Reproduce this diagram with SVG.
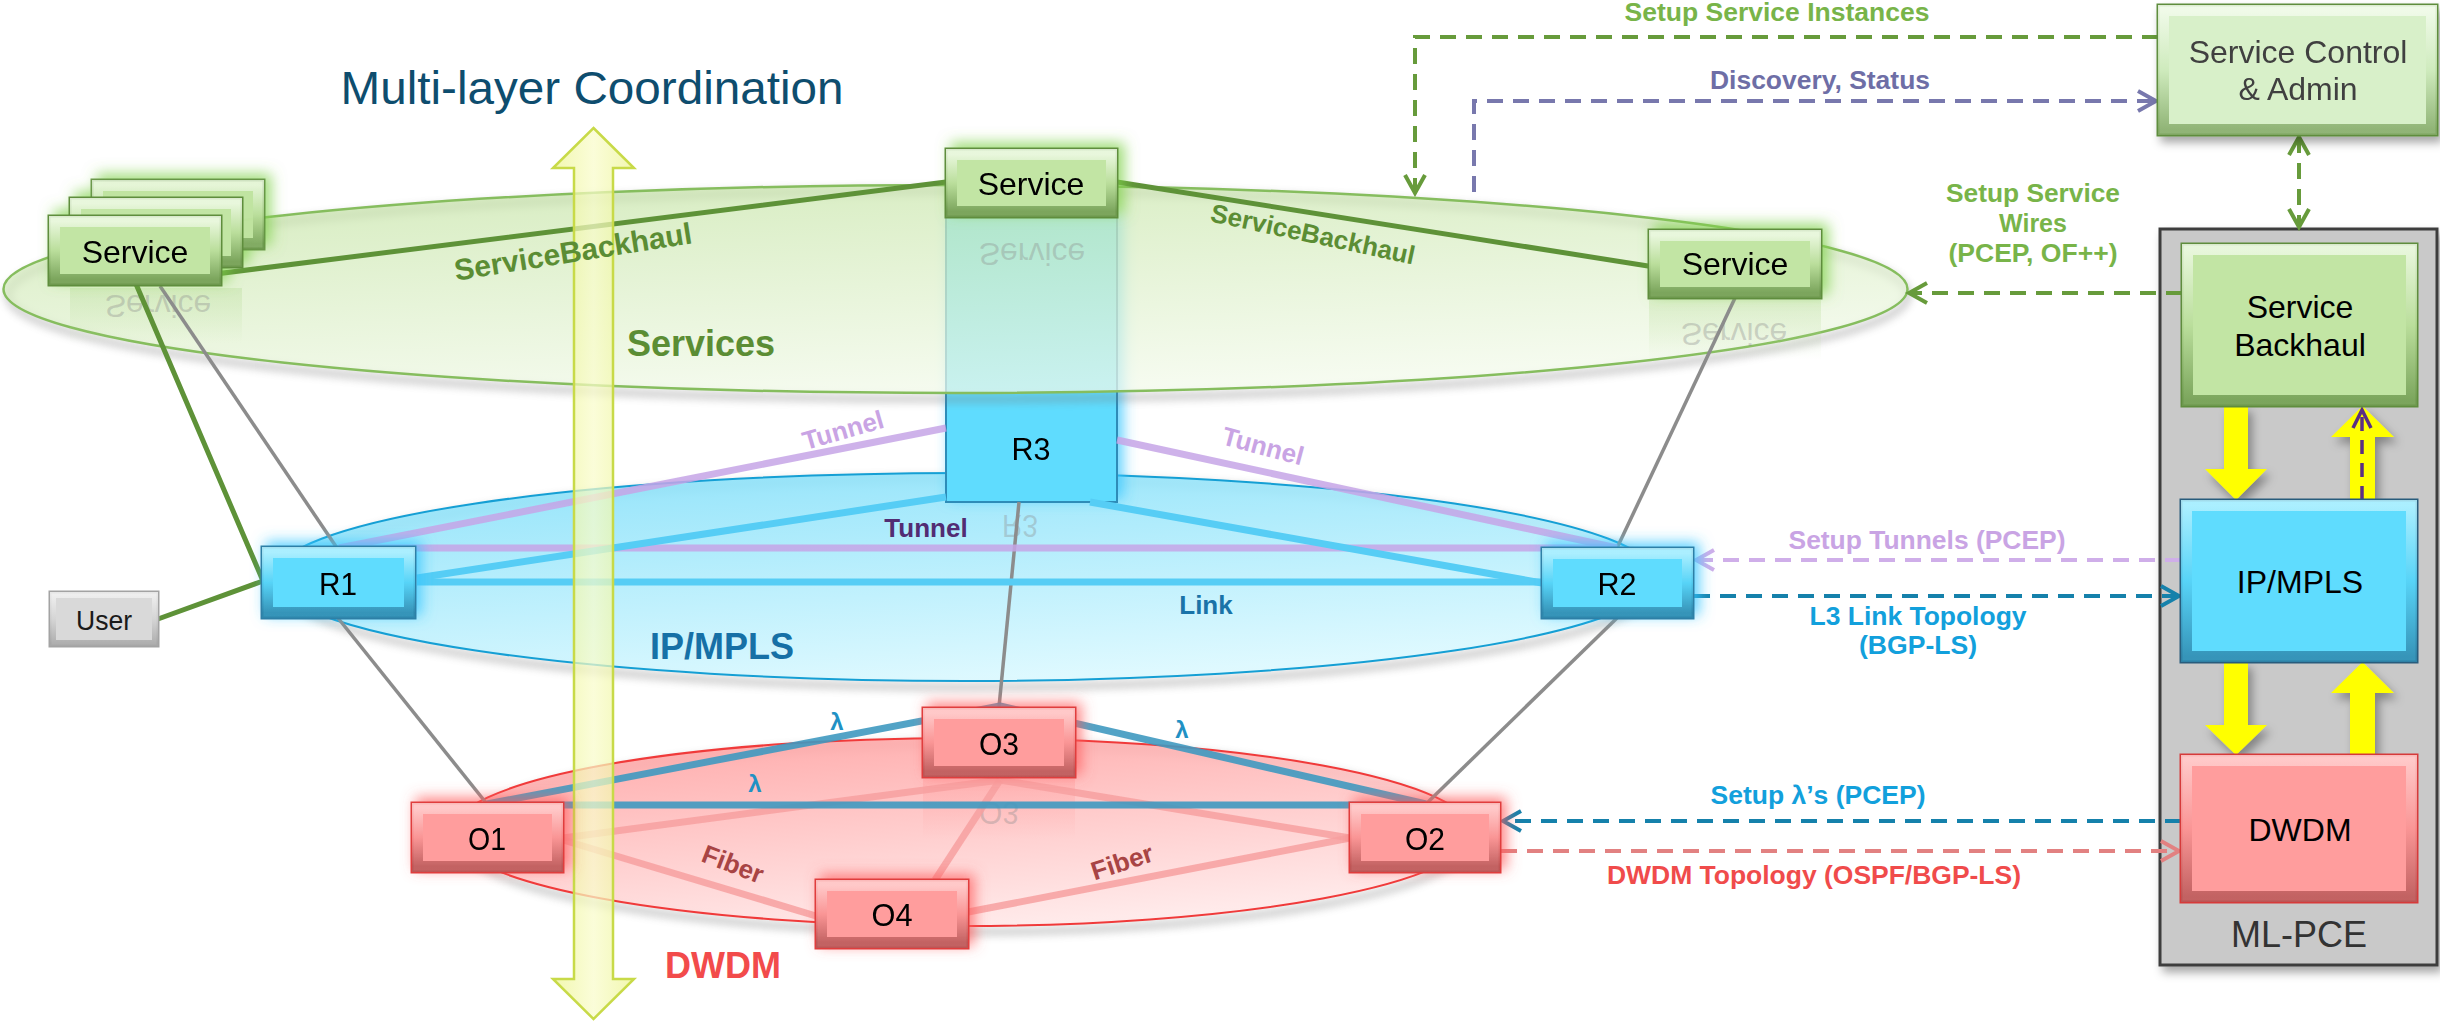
<svg xmlns="http://www.w3.org/2000/svg" width="2440" height="1023" viewBox="0 0 2440 1023">
<defs>
<linearGradient id="gSvc" x1="0.3" y1="0" x2="0.7" y2="1"><stop offset="0" stop-color="#c9e6ab"/><stop offset="1" stop-color="#f5fbee"/></linearGradient>
<linearGradient id="gIp" x1="0.3" y1="0" x2="0.7" y2="1"><stop offset="0" stop-color="#8ce2fa"/><stop offset="1" stop-color="#e0faff"/></linearGradient>
<linearGradient id="gDw" x1="0.3" y1="0" x2="0.7" y2="1"><stop offset="0" stop-color="#ffa6a6"/><stop offset="1" stop-color="#ffecec"/></linearGradient>
<linearGradient id="gArr" x1="0" y1="0" x2="1" y2="0"><stop offset="0" stop-color="#ecf491"/><stop offset="0.5" stop-color="#f9fcca"/><stop offset="1" stop-color="#ecf491"/></linearGradient>
<linearGradient id="bevG" x1="0" y1="0" x2="0" y2="1"><stop offset="0" stop-color="#effae6"/><stop offset="0.5" stop-color="#b9dd9a"/><stop offset="1" stop-color="#6f9a50"/></linearGradient>
<linearGradient id="bevL" x1="0" y1="0" x2="0" y2="1"><stop offset="0" stop-color="#f4fcee"/><stop offset="0.5" stop-color="#cdeabb"/><stop offset="1" stop-color="#84aa68"/></linearGradient>
<linearGradient id="bevB" x1="0" y1="0" x2="0" y2="1"><stop offset="0" stop-color="#b8f2ff"/><stop offset="0.5" stop-color="#56d2f6"/><stop offset="1" stop-color="#2f88ad"/></linearGradient>
<linearGradient id="bevR" x1="0" y1="0" x2="0" y2="1"><stop offset="0" stop-color="#ffd0d0"/><stop offset="0.5" stop-color="#f99494"/><stop offset="1" stop-color="#b85858"/></linearGradient>
<linearGradient id="bevU" x1="0" y1="0" x2="0" y2="1"><stop offset="0" stop-color="#f2f2f2"/><stop offset="0.5" stop-color="#d4d4d4"/><stop offset="1" stop-color="#a8a8a8"/></linearGradient>
<linearGradient id="reflG" x1="0" y1="0" x2="0" y2="1"><stop offset="0" stop-color="#b5db96" stop-opacity="0.35"/><stop offset="1" stop-color="#b5db96" stop-opacity="0"/></linearGradient>
<linearGradient id="reflR" x1="0" y1="0" x2="0" y2="1"><stop offset="0" stop-color="#ff8f8f" stop-opacity="0.3"/><stop offset="1" stop-color="#ff8f8f" stop-opacity="0"/></linearGradient>
<filter id="glowG" x="-30%" y="-50%" width="160%" height="200%"><feGaussianBlur in="SourceAlpha" stdDeviation="7" result="b"/><feOffset in="b" dx="6" dy="-5" result="o"/><feFlood flood-color="#7fd14a" flood-opacity="0.75"/><feComposite in2="o" operator="in" result="g"/><feMerge><feMergeNode in="g"/><feMergeNode in="SourceGraphic"/></feMerge></filter>
<filter id="glowB" x="-30%" y="-50%" width="160%" height="200%"><feGaussianBlur in="SourceAlpha" stdDeviation="7" result="b"/><feOffset in="b" dx="5" dy="-4" result="o"/><feFlood flood-color="#35c6ff" flood-opacity="0.8"/><feComposite in2="o" operator="in" result="g"/><feMerge><feMergeNode in="g"/><feMergeNode in="SourceGraphic"/></feMerge></filter>
<filter id="glowR" x="-30%" y="-50%" width="160%" height="200%"><feGaussianBlur in="SourceAlpha" stdDeviation="7" result="b"/><feOffset in="b" dx="5" dy="-4" result="o"/><feFlood flood-color="#ff5c5c" flood-opacity="0.75"/><feComposite in2="o" operator="in" result="g"/><feMerge><feMergeNode in="g"/><feMergeNode in="SourceGraphic"/></feMerge></filter>
<filter id="shadow" x="-10%" y="-10%" width="130%" height="130%"><feDropShadow dx="4" dy="6" stdDeviation="5" flood-color="#000" flood-opacity="0.35"/></filter>
<filter id="blur4" x="-5%" y="-20%" width="110%" height="140%"><feGaussianBlur stdDeviation="4"/></filter>
<marker id="mG" markerUnits="userSpaceOnUse" markerWidth="26" markerHeight="26" refX="22" refY="13" orient="auto-start-reverse" viewBox="0 0 26 26"><path d="M4,3 L22,13 L4,23" fill="none" stroke="#679b3b" stroke-width="4"/></marker>
<marker id="mP" markerUnits="userSpaceOnUse" markerWidth="26" markerHeight="26" refX="22" refY="13" orient="auto" viewBox="0 0 26 26"><path d="M4,3 L22,13 L4,23" fill="none" stroke="#7878ad" stroke-width="4"/></marker>
<marker id="mL" markerUnits="userSpaceOnUse" markerWidth="26" markerHeight="26" refX="22" refY="13" orient="auto" viewBox="0 0 26 26"><path d="M4,3 L22,13 L4,23" fill="none" stroke="#cfaee9" stroke-width="4"/></marker>
<marker id="mB" markerUnits="userSpaceOnUse" markerWidth="26" markerHeight="26" refX="22" refY="13" orient="auto" viewBox="0 0 26 26"><path d="M4,3 L22,13 L4,23" fill="none" stroke="#1581ab" stroke-width="4"/></marker>
<marker id="mR" markerUnits="userSpaceOnUse" markerWidth="26" markerHeight="26" refX="22" refY="13" orient="auto" viewBox="0 0 26 26"><path d="M4,3 L22,13 L4,23" fill="none" stroke="#e28181" stroke-width="4"/></marker>
<marker id="mV" markerUnits="userSpaceOnUse" markerWidth="26" markerHeight="26" refX="22" refY="13" orient="auto" viewBox="0 0 26 26"><path d="M4,4 L22,13 L4,22" fill="none" stroke="#5b2e84" stroke-width="3.5"/></marker>
<style>
text{font-family:"Liberation Sans",Arial,sans-serif}
.nt{font-size:32px;text-anchor:middle;fill:#000}
.no{font-size:32px;text-anchor:middle;fill:#000}
.lb{font-weight:bold;text-anchor:middle}
.bx{stroke-width:3}
.green{fill:#c2e5a4;stroke:#5f8d3d}
.lgreen{fill:#d8f0c9;stroke:#5f8d3d}
.blue{fill:#5fdcfe;stroke:#2d7fa6}
.red{fill:#ff9d9d;stroke:#e03c3c}
.gray{fill:#d9d9d9;stroke:#a3a3a3}
.bev{fill:none;stroke-width:11;stroke-opacity:0.85}
.bevG{stroke:url(#bevG)}
.bevL{stroke:url(#bevL)}
.bevB{stroke:url(#bevB)}
.bevR{stroke:url(#bevR)}
.bevU{stroke:url(#bevU)}
.svc{fill:none;stroke:#5e9238;stroke-width:5;stroke-linecap:round}
.gl{fill:none;stroke:#8c8c8c;stroke-width:3.5}
.tun{fill:none;stroke:#c6a5e6;stroke-width:7;stroke-opacity:0.85}
.lnk{fill:none;stroke:#56cdf5;stroke-width:7}
.lam{fill:none;stroke:#3f99c0;stroke-width:7;stroke-opacity:0.9;stroke-linejoin:round}
.fib{fill:none;stroke:#f7a0a0;stroke-width:7;stroke-opacity:0.85}
.dash{fill:none;stroke-width:4;stroke-dasharray:16 10}
.dG{stroke:#679b3b}
.dP{stroke:#7878ad}
.dL{stroke:#cfaee9}
.dB{stroke:#1581ab}
.dR{stroke:#e28181}
.dV{stroke:#5b2e84;stroke-width:3.5;stroke-dasharray:14 9}
.yel{fill:#ffff00}
.refl{font-size:32px;text-anchor:middle;fill:#8a8a8a;fill-opacity:0.35}
</style>
</defs>
<rect width="2440" height="1023" fill="#ffffff"/>

<g id="layer-dwdm">
<ellipse cx="965" cy="838" rx="508" ry="94" fill="none" stroke="#777" stroke-width="6" opacity="0.45" filter="url(#blur4)"/>
<ellipse cx="962" cy="832" rx="510" ry="94" fill="url(#gDw)" fill-opacity="0.9" stroke="#f03a3a" stroke-width="2"/>
</g>
<g id="layer-ipmpls">
<ellipse cx="968" cy="583" rx="690" ry="104" fill="none" stroke="#777" stroke-width="6" opacity="0.45" filter="url(#blur4)"/>
<ellipse cx="965" cy="577" rx="692" ry="104" fill="url(#gIp)" fill-opacity="0.9" stroke="#159fd4" stroke-width="2"/>
</g>

<g id="node-r3" filter="url(#glowB)">
<rect x="946" y="217" width="171" height="285" fill="#5fdcfe" stroke="#2d8cb8" stroke-width="2"/>
<text class="no" x="1031" y="460" textLength="39" lengthAdjust="spacingAndGlyphs">R3</text>
</g>

<g id="layer-services">
<ellipse cx="958" cy="295" rx="950" ry="104" fill="none" stroke="#777" stroke-width="6" opacity="0.45" filter="url(#blur4)"/>
<ellipse cx="955.5" cy="289" rx="952" ry="104" fill="url(#gSvc)" fill-opacity="0.72" stroke="#86bd5e" stroke-width="2.5"/>
</g>

<g id="reflections">
<rect x="70" y="288" width="172" height="55" fill="url(#reflG)"/>
<rect x="1649" y="300" width="172" height="60" fill="url(#reflG)"/>
<rect x="923" y="779" width="152" height="60" fill="url(#reflR)"/>
<text class="refl" transform="translate(158,295) scale(1,-1)">Service</text>
<text class="refl" transform="translate(1032,243) scale(1,-1)">Service</text>
<text class="refl" transform="translate(1734,323) scale(1,-1)">Service</text>
<text class="refl" transform="translate(1020,515) scale(1,-1)" textLength="36" lengthAdjust="spacingAndGlyphs">R3</text>
<text class="refl" transform="translate(999,802) scale(1,-1)" textLength="40" lengthAdjust="spacingAndGlyphs">O3</text>
</g>

<g id="node-ml-pce">
<rect x="2160" y="229" width="277" height="736" fill="#c9c9c9" stroke="#3d3d3d" stroke-width="3" filter="url(#shadow)"/>
<text x="2299" y="947" style="font-size:36px;text-anchor:middle;fill:#333">ML-PCE</text>
</g>

<g id="connectors">
<line class="gl" x1="160" y1="286" x2="337" y2="548"/>
<line class="gl" x1="338" y1="618" x2="487" y2="804"/>
<line class="gl" x1="1019" y1="502" x2="999" y2="707"/>
<line class="gl" x1="1735" y1="298" x2="1617" y2="548"/>
<line class="gl" x1="1617" y1="618" x2="1426" y2="804"/>
<line class="svc" x1="136" y1="284" x2="946" y2="182"/>
<line class="svc" x1="1117" y1="182" x2="1648" y2="266"/>
<line class="svc" x1="136" y1="284" x2="263" y2="581"/>
<line class="svc" x1="158" y1="619" x2="263" y2="581"/>
<line class="tun" x1="339" y1="548" x2="946" y2="428"/>
<line class="tun" x1="1117" y1="440" x2="1617" y2="548"/>
<line class="tun" x1="339" y1="548" x2="1617" y2="548"/>
<line class="lnk" x1="417" y1="582" x2="1542" y2="582"/>
<line class="lnk" x1="417" y1="578" x2="946" y2="497"/>
<line class="lnk" x1="1090" y1="502" x2="1542" y2="583"/>
<line class="fib" x1="563" y1="838" x2="1000" y2="780"/>
<line class="fib" x1="1000" y1="780" x2="1350" y2="838"/>
<line class="fib" x1="1000" y1="780" x2="935" y2="880"/>
<line class="fib" x1="563" y1="840" x2="816" y2="916"/>
<line class="fib" x1="968" y1="912" x2="1350" y2="838"/>
<polyline class="lam" points="487,804 1000,706 1426,804"/>
<line class="lam" x1="487" y1="805" x2="1426" y2="805"/>
<path class="dash dG" d="M2158,37 H1415 V193" marker-end="url(#mG)"/>
<path class="dash dP" d="M1474,192 V101 H2156" marker-end="url(#mP)"/>
<path class="dash dG" d="M2299,137 V227" marker-start="url(#mG)" marker-end="url(#mG)"/>
<path class="dash dG" d="M2182,293 H1909" marker-end="url(#mG)"/>
<path class="dash dL" d="M2181,560 H1696" marker-end="url(#mL)"/>
<path class="dash dB" d="M1694,596 H2179" marker-end="url(#mB)"/>
<path class="dash dB" d="M2181,821 H1503" marker-end="url(#mB)"/>
<path class="dash dR" d="M1501,851 H2179" marker-end="url(#mR)"/>
</g>

<g id="coordination-arrow">
<polygon points="593.5,128 634,168 613,168 613,979 634,979 593.5,1019 553,979 574,979 574,168 553,168" fill="url(#gArr)" fill-opacity="0.72" stroke="#c8da48" stroke-width="2.5"/>
</g>

<g id="node-service-left" filter="url(#glowG)">
<rect class="bx green" x="92" y="180" width="172" height="69" opacity="0.9"/>
<rect class="bev bevG" x="97.5" y="185.5" width="161" height="58" opacity="0.9"/>
<rect class="bx green" x="70" y="198" width="172" height="69"/>
<rect class="bev bevG" x="75.5" y="203.5" width="161" height="58"/>
<rect class="bx green" x="49" y="216" width="172" height="69"/>
<rect class="bev bevG" x="54.5" y="221.5" width="161" height="58"/>
<text class="nt" x="135" y="263">Service</text>
</g>
<g id="node-service-top" filter="url(#glowG)">
<rect class="bx green" x="946" y="149" width="171" height="68"/>
<rect class="bev bevG" x="951.5" y="154.5" width="160" height="57"/>
<text class="nt" x="1031" y="195">Service</text>
</g>
<g id="node-service-right" filter="url(#glowG)">
<rect class="bx green" x="1649" y="230" width="172" height="68"/>
<rect class="bev bevG" x="1654.5" y="235.5" width="161" height="57"/>
<text class="nt" x="1735" y="275">Service</text>
</g>
<g id="node-r1" filter="url(#glowB)">
<rect class="bx blue" x="262" y="547" width="153" height="71"/>
<rect class="bev bevB" x="267.5" y="552.5" width="142" height="60"/>
<text class="no" x="338" y="595" textLength="38" lengthAdjust="spacingAndGlyphs">R1</text>
</g>
<g id="node-r2" filter="url(#glowB)">
<rect class="bx blue" x="1542" y="548" width="151" height="70"/>
<rect class="bev bevB" x="1547.5" y="553.5" width="140" height="59"/>
<text class="no" x="1617" y="595" textLength="39" lengthAdjust="spacingAndGlyphs">R2</text>
</g>
<g id="node-o1" filter="url(#glowR)">
<rect class="bx red" x="412" y="803" width="151" height="69"/>
<rect class="bev bevR" x="417.5" y="808.5" width="140" height="58"/>
<text class="no" x="487" y="850" textLength="38" lengthAdjust="spacingAndGlyphs">O1</text>
</g>
<g id="node-o2" filter="url(#glowR)">
<rect class="bx red" x="1350" y="803" width="150" height="69"/>
<rect class="bev bevR" x="1355.5" y="808.5" width="139" height="58"/>
<text class="no" x="1425" y="850" textLength="40" lengthAdjust="spacingAndGlyphs">O2</text>
</g>
<g id="node-o3" filter="url(#glowR)">
<rect class="bx red" x="923" y="708" width="152" height="69"/>
<rect class="bev bevR" x="928.5" y="713.5" width="141" height="58"/>
<text class="no" x="999" y="755" textLength="40" lengthAdjust="spacingAndGlyphs">O3</text>
</g>
<g id="node-o4" filter="url(#glowR)">
<rect class="bx red" x="816" y="880" width="152" height="68"/>
<rect class="bev bevR" x="821.5" y="885.5" width="141" height="57"/>
<text class="no" x="892" y="926" textLength="41" lengthAdjust="spacingAndGlyphs">O4</text>
</g>
<g id="node-user">
<rect class="bx gray" x="50" y="592" width="108" height="54"/>
<rect class="bev bevU" x="53" y="595" width="102" height="48" style="stroke-width:6"/>
<text x="104" y="630" style="font-size:28px;text-anchor:middle;fill:#1a1a1a" textLength="56" lengthAdjust="spacingAndGlyphs">User</text>
</g>

<g id="node-service-control" filter="url(#shadow)">
<rect class="bx lgreen" x="2158" y="5" width="279" height="130"/>
<rect class="bev bevL" x="2163.5" y="10.5" width="268" height="119"/>
<text class="nt" x="2298" y="63" style="fill:#3f3f3f">Service Control</text>
<text class="nt" x="2298" y="100" style="fill:#3f3f3f">&amp; Admin</text>
</g>

<g id="pce-arrows" filter="url(#shadow)">
<polygon class="yel" points="2224,406 2248,406 2248,469 2267,469 2236,500 2205,469 2224,469"/>
<polygon class="yel" points="2362.5,406 2394,437 2375,437 2375,500 2350,500 2350,437 2331,437"/>
<polygon class="yel" points="2224,662 2248,662 2248,725 2267,725 2236,755 2205,725 2224,725"/>
<polygon class="yel" points="2362.5,662 2394,693 2375,693 2375,755 2350,755 2350,693 2331,693"/>
</g>
<path class="dash dV" d="M2362,500 V410" marker-end="url(#mV)"/>
<g id="node-service-backhaul">
<rect class="bx green" x="2182" y="244" width="235" height="162"/>
<rect class="bev bevG" x="2187.5" y="249.5" width="224" height="151"/>
<text class="nt" x="2300" y="318">Service</text>
<text class="nt" x="2300" y="356">Backhaul</text>
</g>
<g id="node-pce-ipmpls">
<rect class="bx blue" x="2181" y="500" width="236" height="162" style="stroke:#285c7c"/>
<rect class="bev bevB" x="2186.5" y="505.5" width="225" height="151"/>
<text class="nt" x="2300" y="593">IP/MPLS</text>
</g>
<g id="node-pce-dwdm">
<rect class="bx red" x="2181" y="755" width="236" height="147" style="stroke:#d63a3a"/>
<rect class="bev bevR" x="2186.5" y="760.5" width="225" height="136"/>
<text class="nt" x="2300" y="841">DWDM</text>
</g>

<g id="labels">
<text x="592" y="104" style="font-size:47px;text-anchor:middle;fill:#0e4d6e" textLength="503" lengthAdjust="spacingAndGlyphs">Multi-layer Coordination</text>
<text class="lb" x="701" y="356" style="font-size:36px;fill:#5b8d34">Services</text>
<text class="lb" x="722" y="659" style="font-size:36px;fill:#1670a6">IP/MPLS</text>
<text class="lb" x="723" y="978" style="font-size:36px;fill:#f24b4b">DWDM</text>
<text class="lb" transform="translate(573,252) rotate(-9)" y="10" style="font-size:30px;fill:#5b8d34">ServiceBackhaul</text>
<text class="lb" transform="translate(1313,234) rotate(12)" y="9" style="font-size:26px;fill:#5b8d34">ServiceBackhaul</text>
<text class="lb" transform="translate(843,430) rotate(-16)" y="9" style="font-size:26px;fill:#c9a4e4">Tunnel</text>
<text class="lb" transform="translate(1263,446) rotate(15)" y="9" style="font-size:26px;fill:#c9a4e4">Tunnel</text>
<text class="lb" x="926" y="537" style="font-size:26px;fill:#522c73">Tunnel</text>
<text class="lb" x="1206" y="614" style="font-size:26px;fill:#1a73a8">Link</text>
<text class="lb" x="837" y="730" style="font-size:24px;fill:#2191c4">λ</text>
<text class="lb" x="1182" y="738" style="font-size:24px;fill:#2191c4">λ</text>
<text class="lb" x="755" y="792" style="font-size:24px;fill:#2191c4">λ</text>
<text class="lb" transform="translate(733,864) rotate(21)" y="9" style="font-size:26px;fill:#a84444">Fiber</text>
<text class="lb" transform="translate(1122,862) rotate(-18)" y="9" style="font-size:26px;fill:#a84444">Fiber</text>
<text class="lb" x="1777" y="21" style="font-size:25px;fill:#78b449" textLength="305" lengthAdjust="spacingAndGlyphs">Setup Service Instances</text>
<text class="lb" x="1820" y="89" style="font-size:25px;fill:#6e6ea6" textLength="220" lengthAdjust="spacingAndGlyphs">Discovery, Status</text>
<text class="lb" x="2033" y="202" style="font-size:25px;fill:#78b449" textLength="174" lengthAdjust="spacingAndGlyphs">Setup Service</text>
<text class="lb" x="2033" y="232" style="font-size:25px;fill:#78b449">Wires</text>
<text class="lb" x="2033" y="262" style="font-size:25px;fill:#78b449" textLength="169" lengthAdjust="spacingAndGlyphs">(PCEP, OF++)</text>
<text class="lb" x="1927" y="549" style="font-size:25px;fill:#c9a4e4" textLength="277" lengthAdjust="spacingAndGlyphs">Setup Tunnels (PCEP)</text>
<text class="lb" x="1918" y="625" style="font-size:25px;fill:#12a0dc" textLength="217" lengthAdjust="spacingAndGlyphs">L3 Link Topology</text>
<text class="lb" x="1918" y="654" style="font-size:25px;fill:#12a0dc" textLength="118" lengthAdjust="spacingAndGlyphs">(BGP-LS)</text>
<text class="lb" x="1818" y="804" style="font-size:25px;fill:#12a0dc" textLength="215" lengthAdjust="spacingAndGlyphs">Setup λ’s (PCEP)</text>
<text class="lb" x="1814" y="884" style="font-size:25px;fill:#f04b4b" textLength="414" lengthAdjust="spacingAndGlyphs">DWDM Topology (OSPF/BGP-LS)</text>
</g>
</svg>
